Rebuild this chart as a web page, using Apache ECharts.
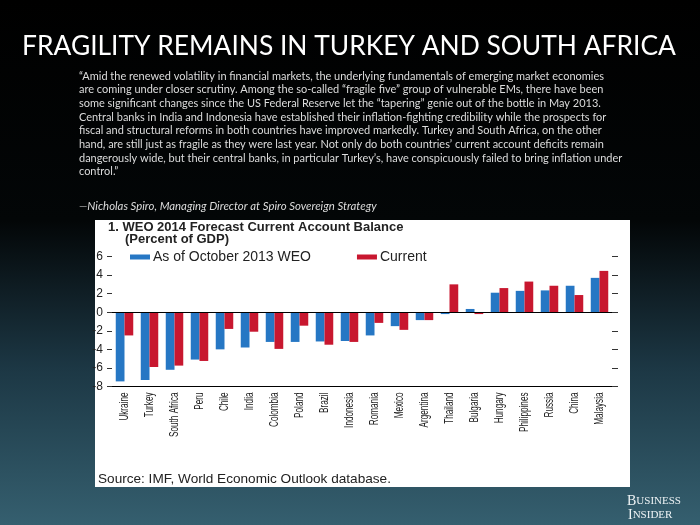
<!DOCTYPE html>
<html>
<head>
<meta charset="utf-8">
<script src="https://cdn.jsdelivr.net/npm/echarts@6/dist/echarts.min.js"></script>
<style>
html,body{margin:0;padding:0;background:#000;}
#chart{width:700px;height:525px;}
</style>
</head>
<body>
<div id="chart"></div>
<script>
// ---- Data ----
var categories = ['Ukraine','Turkey','South Africa','Peru','Chile','India','Colombia','Poland','Brazil','Indonesia','Romania','Mexico','Argentina','Thailand','Bulgaria','Hungary','Philippines','Russia','China','Malaysia'];
var asOfOct2013 = [-7.45,-7.3,-6.2,-5.1,-4.0,-3.8,-3.2,-3.2,-3.15,-3.1,-2.5,-1.5,-0.85,-0.2,0.35,2.1,2.3,2.35,2.85,3.7];
var currentVals = [-2.5,-5.9,-5.75,-5.25,-1.8,-2.1,-3.95,-1.45,-3.5,-3.2,-1.15,-1.9,-0.85,3.0,-0.2,2.6,3.3,2.85,1.85,4.45];
var seriesNames = ['As of October 2013 WEO','Current'];
var yTicks = {min:-8, max:6, interval:2};

var pageTitle = 'FRAGILITY REMAINS IN TURKEY AND SOUTH AFRICA';
var quoteLines = [
 '\u201cAmid the renewed volatility in financial markets, the underlying fundamentals of emerging market economies',
 'are coming under closer scrutiny. Among the so-called \u201cfragile five\u201d group of vulnerable EMs, there have been',
 'some significant changes since the US Federal Reserve let the \u201ctapering\u201d genie out of the bottle in May 2013.',
 'Central banks in India and Indonesia have established their inflation-fighting credibility while the prospects for',
 'fiscal and structural reforms in both countries have improved markedly. Turkey and South Africa, on the other',
 'hand, are still just as fragile as they were last year. Not only do both countries\u2019 current account deficits remain',
 'dangerously wide, but their central banks, in particular Turkey\u2019s, have conspicuously failed to bring inflation under',
 'control.\u201d'
];
var attribution = '\u2014Nicholas Spiro, Managing Director at Spiro Sovereign Strategy';
var chartTitle1 = '1. WEO 2014 Forecast Current Account Balance';
var chartTitle2 = '(Percent of GDP)';
var sourceText = 'Source: IMF, World Economic Outlook database.';

// ---- helpers ----
var mctx = document.createElement('canvas').getContext('2d');
function fitSize(text, font, target){
  mctx.font = '100px ' + font;
  var w = mctx.measureText(text).width;
  return 100 * target / w;
}
var titleFont = 'Lato, "Open Sans", sans-serif';
var quoteFont = 'Lato, "Open Sans", sans-serif';
var titleSize = fitSize(pageTitle, titleFont, 654);
var quoteSize = fitSize(quoteLines[6], quoteFont, 544);
mctx.font = 'italic 100px ' + quoteFont;
var attrSize = 100 * 298 / mctx.measureText(attribution).width;

var chart = echarts.init(document.getElementById('chart'));

function baseGraphics(){
  var g = [];
  g.push({type:'rect', z:-10, shape:{x:95,y:220,width:535,height:267}, style:{fill:'#ffffff'}});
  g.push({type:'text', x:349, y:46, style:{text:pageTitle, fill:'#ffffff', font: titleSize.toFixed(2) + 'px ' + titleFont, textAlign:'center', textVerticalAlign:'middle'}});
  quoteLines.forEach(function(l,i){
    g.push({type:'text', x:79, y:76 + i*13.7, style:{text:l, fill:'#dcdcdc', font: quoteSize.toFixed(2)+'px '+quoteFont, textAlign:'left', textVerticalAlign:'middle'}});
  });
  g.push({type:'text', x:79, y:206, style:{text:attribution, fill:'#dcdcdc', font:'italic '+attrSize.toFixed(2)+'px '+quoteFont, textAlign:'left', textVerticalAlign:'middle'}});
  g.push({type:'text', x:108, y:227, style:{text:chartTitle1, fill:'#222', font:'bold 13px "Liberation Sans", Arial, sans-serif', textAlign:'left', textVerticalAlign:'middle'}});
  g.push({type:'text', x:125, y:239, style:{text:chartTitle2, fill:'#222', font:'bold 13px "Liberation Sans", Arial, sans-serif', textAlign:'left', textVerticalAlign:'middle'}});
  g.push({type:'text', x:98, y:479, style:{text:sourceText, fill:'#222', font:'13.6px "Liberation Sans", Arial, sans-serif', textAlign:'left', textVerticalAlign:'middle'}});
  var rich = {b:{fontSize:14,fontFamily:'"Liberation Serif", serif',fill:'#eef3f5'}, s:{fontSize:11,fontFamily:'"Liberation Serif", serif',fill:'#eef3f5'}};
  g.push({type:'text', x:627, y:501, style:{text:'{b|B}{s|USINESS}', fill:'#eef3f5', rich:rich, textVerticalAlign:'middle'}});
  g.push({type:'text', x:628, y:515, style:{text:'{b|I}{s|NSIDER}', fill:'#eef3f5', rich:rich, textVerticalAlign:'middle'}});
  return g;
}

var option = {
  animation:false,
  backgroundColor: new echarts.graphic.LinearGradient(0,0,0,1,[
    {offset:0,color:'#000000'},{offset:0.42,color:'#030607'},{offset:0.7,color:'#1c3744'},{offset:1,color:'#355f6f'}
  ]),
  graphic: baseGraphics(),
  legend:{
    data:seriesNames, left:130, top:250, padding:0, itemWidth:20, itemHeight:5, itemGap:46,
    icon:'rect',
    textStyle:{fontFamily:'"Liberation Sans", Arial, sans-serif', fontSize:14, color:'#222', padding:[0,0,0,-2]}
  },
  grid:{left:112, right:88, top:256.5, bottom:138.5, containLabel:false},
  xAxis:{
    type:'category', data:categories,
    axisLine:{onZero:false, lineStyle:{color:'#000', width:1}},
    axisTick:{inside:true, length:5, lineStyle:{color:'#000'}},
    axisLabel:{show:false}
  },
  yAxis:[{
    type:'value', min:yTicks.min, max:yTicks.max, interval:yTicks.interval,
    axisLine:{show:false},
    axisTick:{show:true, length:5, lineStyle:{color:'#333'}},
    splitLine:{show:false},
    axisLabel:{margin:9, fontSize:12, color:'#222', fontFamily:'"Liberation Sans", Arial, sans-serif'}
  },{
    type:'value', position:'right', min:yTicks.min, max:yTicks.max, interval:yTicks.interval,
    axisLine:{show:false},
    axisTick:{show:true, length:6, lineStyle:{color:'#333'}},
    splitLine:{show:false},
    axisLabel:{show:false}
  }],
  series:[{
    name:seriesNames[0], type:'bar', data:asOfOct2013, barGap:'0%', barCategoryGap:'30%',
    itemStyle:{color:'#2677c4'},
    markLine:{silent:true, symbol:'none', label:{show:false}, lineStyle:{color:'#000', width:1, type:'solid'}, data:[{yAxis:0}]}
  },{
    name:seriesNames[1], type:'bar', data:currentVals, barGap:'0%', barCategoryGap:'30%',
    itemStyle:{color:'#c8172f'}
  }]
};
chart.setOption(option);

// condensed, rotated category labels positioned through the category axis
var g2 = baseGraphics();
var axisY = chart.convertToPixel({yAxisIndex:0}, yTicks.min);
categories.forEach(function(c){
  var px = chart.convertToPixel({xAxisIndex:0}, c);
  g2.push({type:'text', x:px, y:axisY + 6, rotation:Math.PI/2, scaleX:0.68, scaleY:1,
    style:{text:c, fill:'#222', font:'12px "Liberation Sans", Arial, sans-serif', textAlign:'right', textVerticalAlign:'middle'}});
});
chart.setOption({graphic: g2}, {replaceMerge:['graphic']});
</script>
</body>
</html>
